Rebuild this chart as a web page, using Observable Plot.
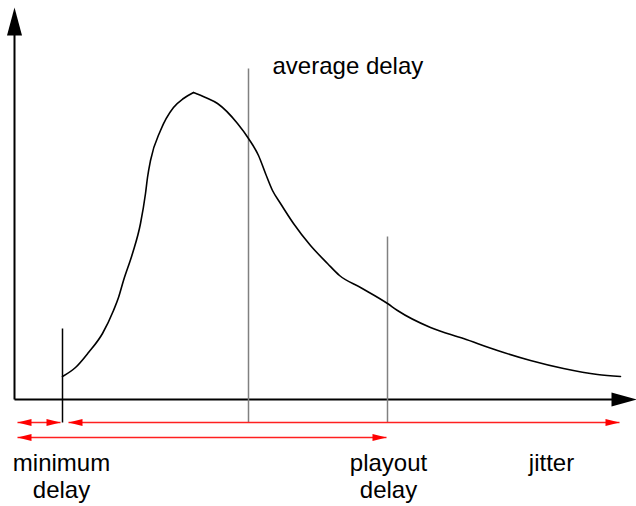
<!DOCTYPE html>
<html>
<head>
<meta charset="utf-8">
<script src="https://cdn.jsdelivr.net/npm/d3@7"></script>
<script src="https://cdn.jsdelivr.net/npm/@observablehq/plot@0.6"></script>
<style>
  html, body { margin: 0; padding: 0; background: #fff; }
  #chart svg { display: block; }
</style>
</head>
<body>
<div id="chart"></div>
<script>
// Delay distribution curve (x = delay, y = density, arbitrary units)
const riseX = [48, 61, 74, 88, 99, 104, 109, 118, 126, 131, 133, 136, 146, 159, 169, 179];
const riseY = [23, 32, 47, 66, 89, 102, 119, 146, 176, 206, 222, 239, 269, 292, 301, 307];
const fallX = [179, 191, 203, 223, 234, 244, 251, 258, 266, 279, 296, 313, 325, 346, 373, 383, 416, 449, 483, 516, 549, 583, 606];
const fallY = [307, 302, 296, 276, 261, 244, 226, 209, 196, 176, 154, 136, 124, 112, 96, 89, 72, 61, 49, 39, 31, 25, 23];

// Markers: minimum delay, average delay, playout delay
const markerNames = ["minimum", "average", "playout"];
const markerX = [48, 234, 373];
const markerTop = [71, 331, 163];
const markerColor = ["#000", "#808080", "#808080"];
const markerBottom = -23;

// Red double-headed spans
const spanFrom = [3, 54, 3];
const spanTo = [46, 605, 372];
const spanRow = [-23, -23, -38];

// Axis extents
const axisXEnd = 622;
const axisYEnd = 392;

// Labels
const labelText = ["average delay", "minimum", "delay", "playout", "delay", "jitter"];
const labelX = [258, 47, 47, 374, 374, 537];
const labelY = [326, -71, -98, -71, -98, -71];
const labelAnchor = ["start", "middle", "middle", "middle", "middle", "middle"];

const curve = [
  ...riseX.map((x, i) => ({x, y: riseY[i], seg: "rise"})),
  ...fallX.map((x, i) => ({x, y: fallY[i], seg: "fall"}))
];
const markers = markerNames.map((n, i) => ({n, x: markerX[i], y1: markerBottom, y2: markerTop[i], c: markerColor[i]}));
const spans = spanFrom.map((a, i) => ({a, b: spanTo[i], y: spanRow[i]}));
const labels = labelText.map((t, i) => ({t, x: labelX[i], y: labelY[i], anchor: labelAnchor[i]}));

function head(L, W, dir) {
  return {
    draw(ctx) {
      ctx.moveTo(0, 0);
      if (dir === "right") { ctx.lineTo(-L, -W); ctx.lineTo(-L, W); }
      else if (dir === "left") { ctx.lineTo(L, -W); ctx.lineTo(L, W); }
      else { ctx.lineTo(-W, L); ctx.lineTo(W, L); }
      ctx.closePath();
    }
  };
}

const font = "Liberation Sans, Arial, Helvetica, sans-serif";

const chart = Plot.plot({
  width: 636,
  height: 506,
  margin: 0,
  x: {domain: [-14, 622], range: [0, 636], axis: null},
  y: {domain: [-107, 399], range: [506, 0], axis: null},
  style: {background: "#fff", fontFamily: font, overflow: "visible"},
  marks: [
    // axes
    Plot.link([0], {x1: 0, y1: 0, x2: axisXEnd - 24, y2: 0, stroke: "#000", strokeWidth: 2}),
    Plot.link([0], {x1: 0, y1: 0, x2: 0, y2: axisYEnd - 27, stroke: "#000", strokeWidth: 2}),
    Plot.dot([0], {x: axisXEnd, y: 0, symbol: head(25, 7, "right"), fill: "#000", stroke: null}),
    Plot.dot([0], {x: 0, y: axisYEnd, symbol: head(28, 7.5, "up"), fill: "#000", stroke: null}),
    // marker lines
    Plot.link(markers, {x1: "x", x2: "x", y1: "y1", y2: "y2", stroke: "c", strokeWidth: 1.5}),
    // curve
    Plot.line(curve, {x: "x", y: "y", z: "seg", curve: "monotone-x", stroke: "#000", strokeWidth: 1.6}),
    // red spans
    Plot.link(spans, {x1: "a", x2: "b", y1: "y", y2: "y", stroke: "#ff2020", strokeWidth: 1.5}),
    Plot.dot(spans, {x: "a", y: "y", symbol: head(14, 3.6, "left"), fill: "red", stroke: null}),
    Plot.dot(spans, {x: "b", y: "y", symbol: head(14, 3.6, "right"), fill: "red", stroke: null}),
    // labels
    Plot.text(labels.filter(d => d.anchor === "start"), {x: "x", y: "y", text: "t", textAnchor: "start", lineAnchor: "bottom", fontSize: 24, fill: "#000", fontFamily: font}),
    Plot.text(labels.filter(d => d.anchor === "middle"), {x: "x", y: "y", text: "t", textAnchor: "middle", lineAnchor: "bottom", fontSize: 24, fill: "#000", fontFamily: font})
  ]
});
document.getElementById("chart").appendChild(chart);
</script>
</body>
</html>
